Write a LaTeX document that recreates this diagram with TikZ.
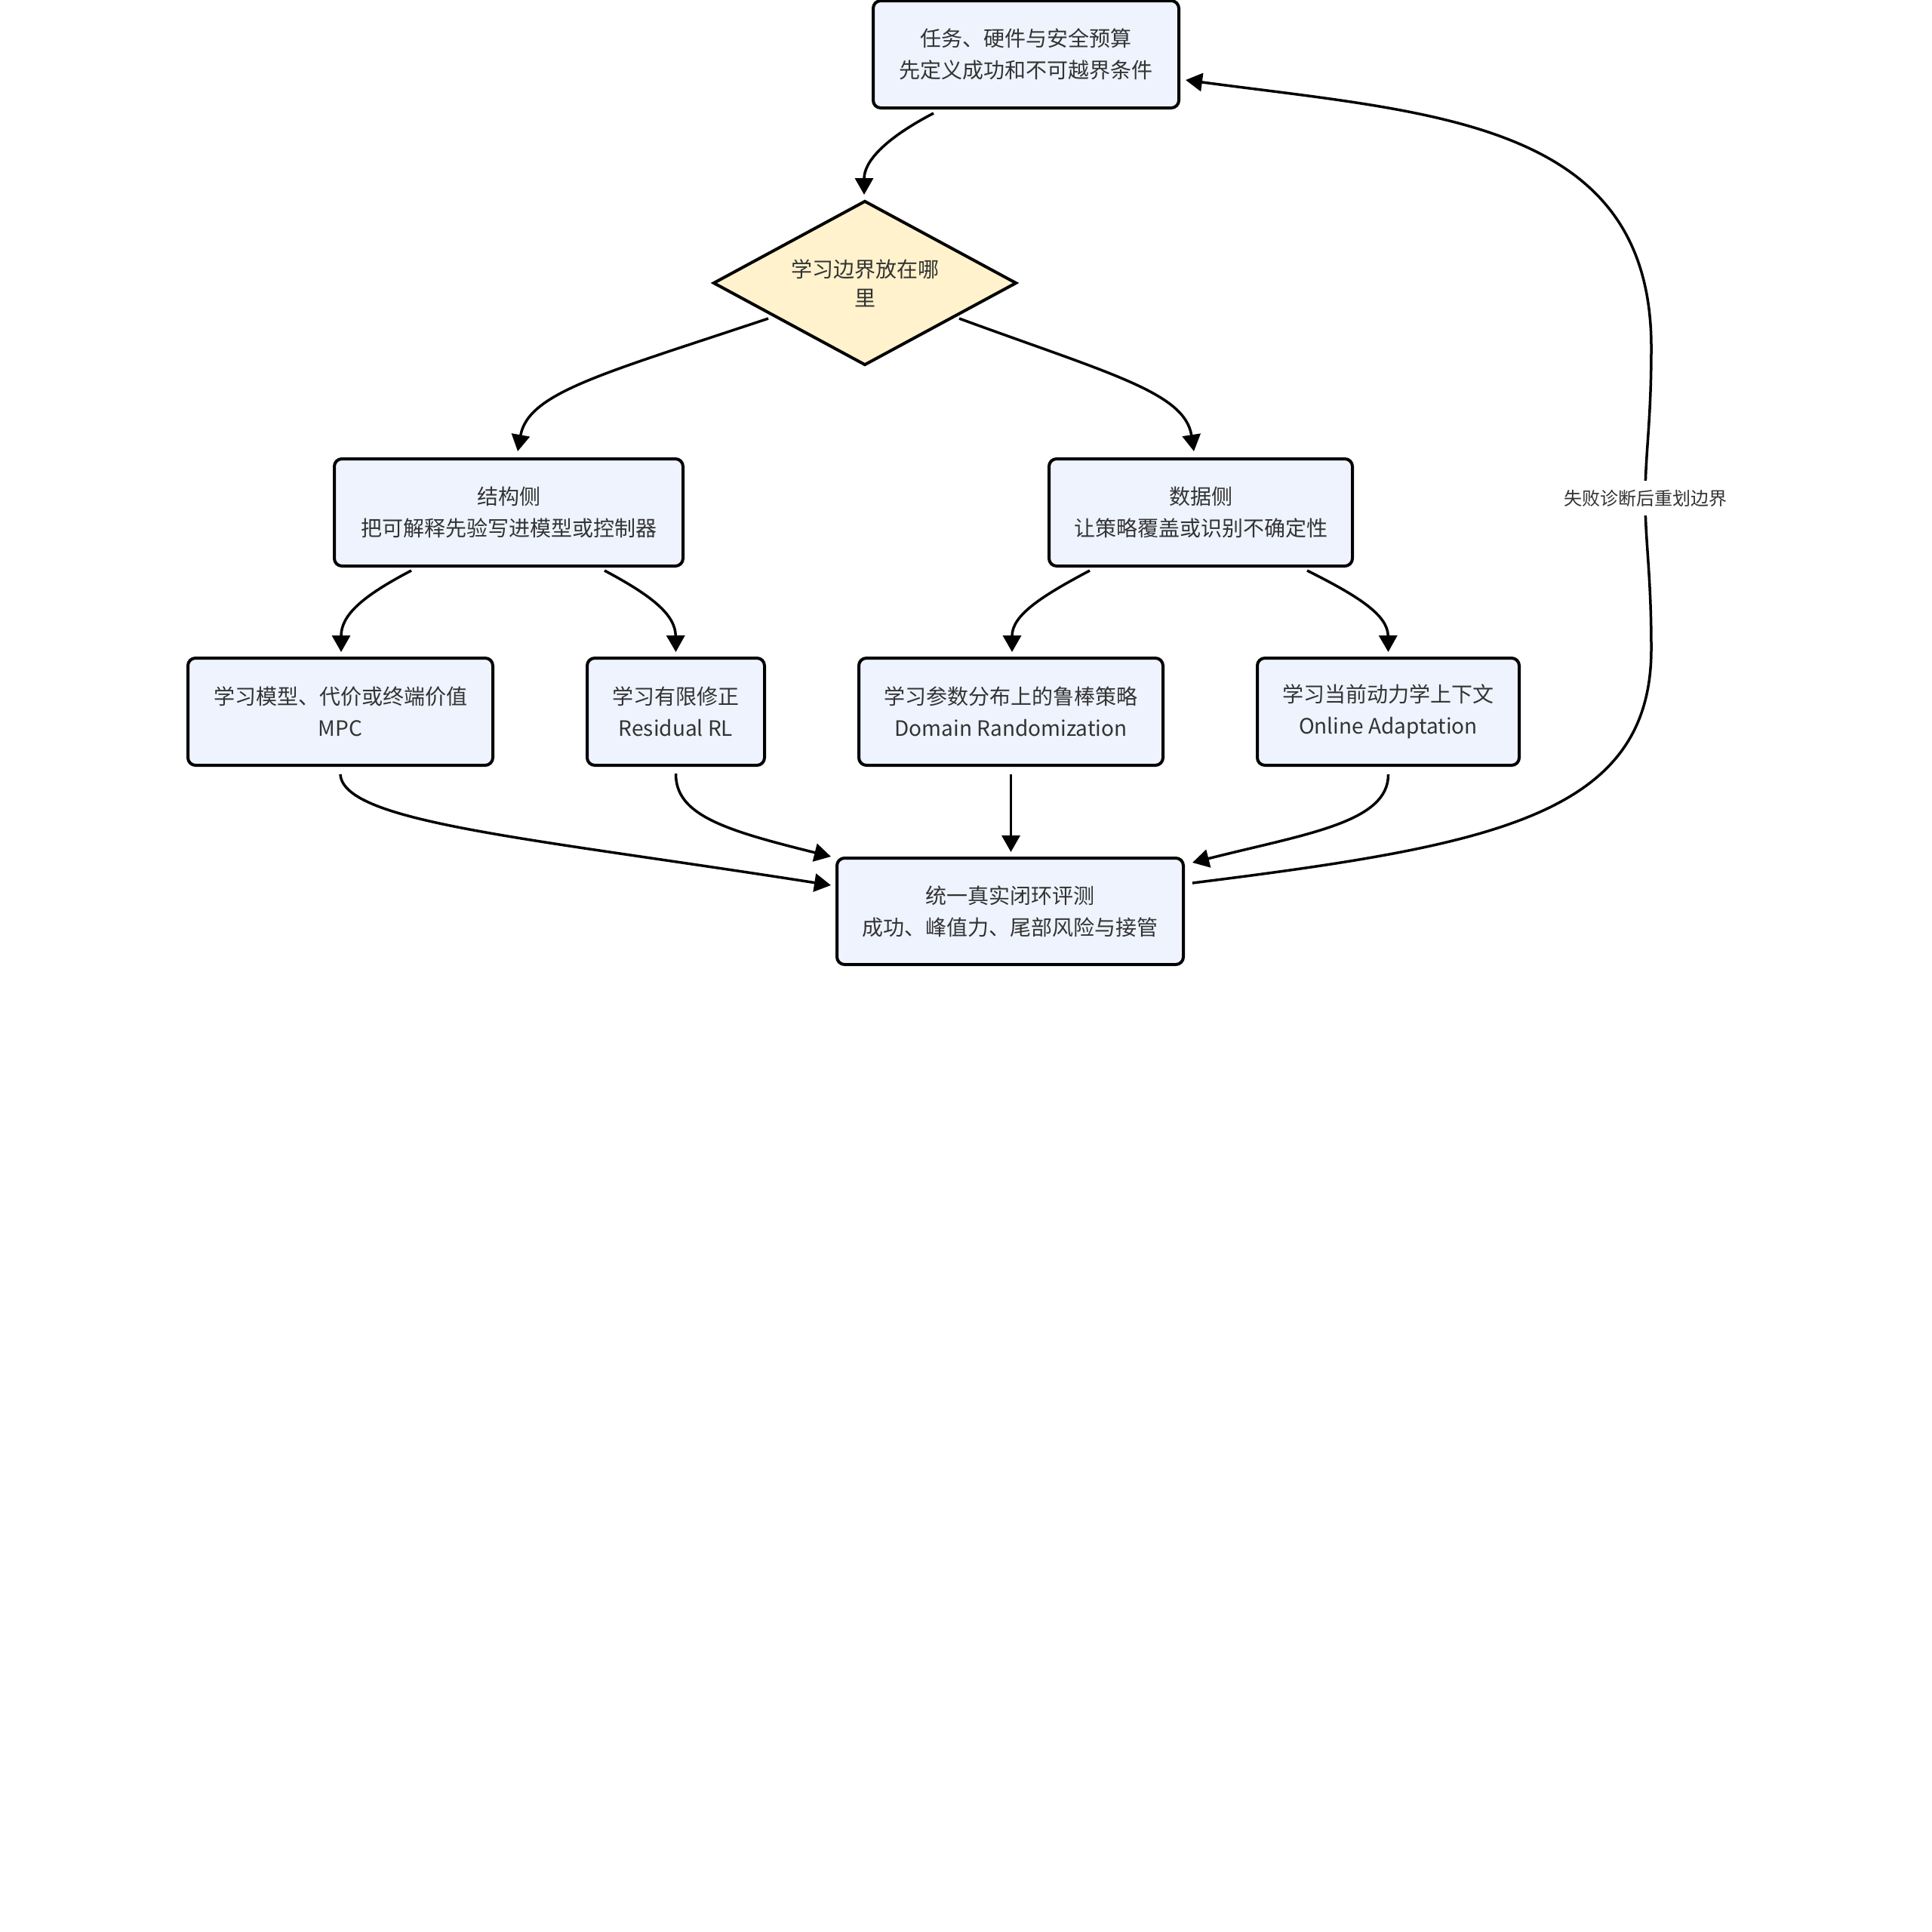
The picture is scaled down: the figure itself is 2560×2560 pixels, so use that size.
\documentclass[tikz,border=0pt]{standalone}
\usepackage{fontspec}
\setmainfont{Noto Sans CJK SC}
\usetikzlibrary{arrows.meta,shapes.geometric,calc}
\definecolor{boxfill}{HTML}{EEF3FD}
\definecolor{decfill}{HTML}{FFF2CC}
\definecolor{txt}{HTML}{333333}
\begin{document}
\begin{tikzpicture}[x=0.5pt,y=-0.5pt,
  box/.style={draw=black, line width=2pt, fill=boxfill, rounded corners=5pt,
    align=center, text=txt, font=\fontsize{14pt}{21pt}\selectfont, inner sep=0pt,
    minimum height=71pt},
  dec/.style={diamond, aspect=1.844, draw=black, line width=2pt, fill=decfill, align=center,
    text=txt, font=\fontsize{14pt}{19pt}\selectfont, inner sep=0pt,
    minimum width=201pt, minimum height=109pt},
  arr/.style={-{Triangle[length=11pt,width=12pt]}, line width=1.75pt, draw=black},
  lbl/.style={fill=white, text=txt, font=\fontsize{12pt}{15pt}\selectfont,
    inner xsep=3pt, inner ysep=6pt}]
\useasboundingbox (0,0) rectangle (2560,2560);

\node[box, minimum width=202.5pt] (top) at (1359.5,72) {任务、硬件与安全预算\\先定义成功和不可越界条件};
\node[dec] (dec) at (1146,375) {学习边界放在哪\\里};
\node[box, minimum width=231pt] (struct) at (674,679) {结构侧\\把可解释先验写进模型或控制器};
\node[box, minimum width=201pt] (data) at (1591,679) {数据侧\\让策略覆盖或识别不确定性};
\node[box, minimum width=202pt] (mpc) at (451,943) {学习模型、代价或终端价值\\MPC};
\node[box, minimum width=117.5pt] (res) at (895.5,943) {学习有限修正\\Residual RL};
\node[box, minimum width=201.5pt] (dom) at (1339.5,943) {学习参数分布上的鲁棒策略\\Domain Randomization};
\node[box, minimum width=173.5pt] (onl) at (1839.5,943) {学习当前动力学上下文\\Online Adaptation};
\node[box, minimum width=229.5pt, minimum height=70.5pt] (eval) at (1338.5,1207.5) {统一真实闭环评测\\成功、峰值力、尾部风险与接管};

% connectors
\draw[arr] ($(top.south)+(-122.5,5)$) .. controls (1170,185) and (1145,215) .. ($(dec.north)+(-1,-6)$);
\draw[arr] ($(dec.center)+(-128,47)$) .. controls (800,495) and (700,520) .. ($(struct.north)+(12,-8)$);
\draw[arr] ($(dec.center)+(125,47)$) .. controls (1470,495) and (1570,520) .. ($(data.north)+(-9,-8)$);
\draw[arr] ($(struct.south)+(-129,4)$) .. controls (480,790) and (452,815) .. ($(mpc.north)+(1,-6)$);
\draw[arr] ($(struct.south)+(127,4)$) .. controls (865,790) and (895,815) .. ($(res.north)+(0,-6)$);
\draw[arr] ($(data.south)+(-147,4)$) .. controls (1380,790) and (1341,815) .. ($(dom.north)+(1.5,-6)$);
\draw[arr] ($(data.south)+(141,4)$) .. controls (1800,790) and (1839,815) .. ($(onl.north)+(0,-6)$);
\draw[arr] ($(mpc.south)+(0,10)$) .. controls (455,1090) and (700,1110) .. ($(eval.west)+(-6,-34.5)$);
\draw[arr] ($(res.south)+(0,9)$) .. controls (895,1080) and (960,1100) .. ($(eval.north west)+(-6,0)$);
\draw[arr] ($(dom.south)+(0,10)$) -- ($(eval.north)+(1,-6)$);
\draw[arr] ($(onl.south)+(0,10)$) .. controls (1840,1090) and (1730,1105) .. ($(eval.north east)+(10,8)$);
\draw[arr] ($(eval.east)+(10,-37.5)$) .. controls (1980,1120) and (2188,1080) .. (2188,860)
   .. controls (2188,760) and (2180,720) .. (2180,660)
   .. controls (2180,600) and (2188,560) .. (2188,460)
   .. controls (2188,160) and (1900,150) .. ($(top.east)+(7,34)$);
\node[lbl] (loop) at (2180,660) {失败诊断后重划边界};
\end{tikzpicture}
\end{document}
